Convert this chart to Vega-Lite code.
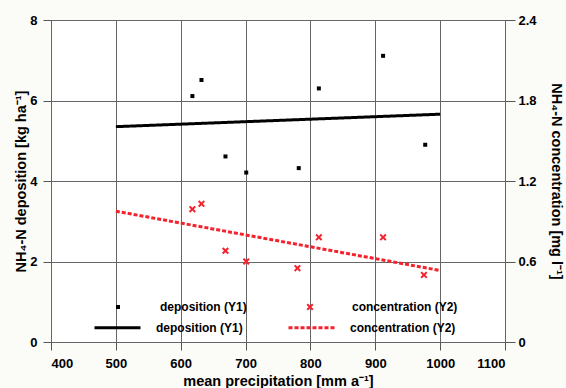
{
  "$schema": "https://vega.github.io/schema/vega-lite/v6.json",
  "width": 454,
  "height": 322,
  "autosize": "none",
  "padding": {"left": 51, "top": 20, "right": 61, "bottom": 46},
  "background": "#fbfbf7",
  "config": {
    "view": {"fill": "white", "stroke": "#555", "strokeWidth": 1},
    "font": "Liberation Sans",
    "axis": {
      "labelFont": "Liberation Sans", "labelFontWeight": "bold", "labelFontSize": 13, "labelColor": "black",
      "titleFont": "Liberation Sans", "titleFontWeight": "bold", "titleFontSize": 14.5, "titleColor": "black",
      "domain": false, "tickColor": "#555", "gridColor": "#666", "gridOpacity": 1, "gridWidth": 1
    },
    "legend": {
      "labelFont": "Liberation Sans", "labelFontWeight": "bold", "labelFontSize": 12, "labelColor": "black",
      "padding": 0
    }
  },
  "datasets": {
    "pts": [
      {"p": 618, "y": 6.11, "s": "deposition (Y1)"},
      {"p": 632, "y": 6.51, "s": "deposition (Y1)"},
      {"p": 669, "y": 4.61, "s": "deposition (Y1)"},
      {"p": 701, "y": 4.21, "s": "deposition (Y1)"},
      {"p": 782, "y": 4.32, "s": "deposition (Y1)"},
      {"p": 813, "y": 6.3, "s": "deposition (Y1)"},
      {"p": 912, "y": 7.11, "s": "deposition (Y1)"},
      {"p": 977, "y": 4.9, "s": "deposition (Y1)"},
      {"p": 618, "y": 0.99, "s": "concentration (Y2)"},
      {"p": 632, "y": 1.03, "s": "concentration (Y2)"},
      {"p": 669, "y": 0.68, "s": "concentration (Y2)"},
      {"p": 701, "y": 0.6, "s": "concentration (Y2)"},
      {"p": 780, "y": 0.55, "s": "concentration (Y2)"},
      {"p": 813, "y": 0.78, "s": "concentration (Y2)"},
      {"p": 912, "y": 0.78, "s": "concentration (Y2)"},
      {"p": 975, "y": 0.5, "s": "concentration (Y2)"}
    ],
    "fit": [
      {"p": 500, "y": 5.35, "f": "deposition fit"},
      {"p": 1000, "y": 5.66, "f": "deposition fit"},
      {"p": 500, "y": 0.975, "f": "concentration fit"},
      {"p": 1000, "y": 0.533, "f": "concentration fit"}
    ]
  },
  "layer": [
    {
      "layer": [
        {
          "data": {"name": "fit"},
          "transform": [{"filter": "datum.f == 'deposition fit'"}],
          "mark": {"type": "line", "strokeWidth": 3},
          "encoding": {
            "x": {"field": "p", "type": "quantitative", "scale": {"domain": [400, 1100], "nice": false},
              "axis": {"values": [400, 500, 600, 700, 800, 900, 1000, 1100], "format": "d", "title": "mean precipitation [mm a⁻¹]", "grid": true, "tickSize": 8, "labelPadding": 7, "titlePadding": 4}},
            "y": {"field": "y", "type": "quantitative", "scale": {"domain": [0, 8], "nice": false},
              "axis": {"orient": "left", "values": [0, 2, 4, 6, 8], "title": "NH₄-N deposition [kg ha⁻¹]", "grid": true, "tickSize": 8, "labelPadding": 6, "titlePadding": 1}},
            "stroke": {"field": "f", "type": "nominal",
              "scale": {"domain": ["deposition fit", "concentration fit"], "range": ["black", "#f5222d"]},
              "legend": {"title": null, "orient": "none", "legendX": 42, "legendY": 283, "direction": "horizontal", "columns": 2, "columnPadding": 39, "symbolType": "stroke", "symbolSize": 2116, "symbolStrokeWidth": 3, "labelOffset": 14, "labelExpr": "datum.label == 'deposition fit' ? 'deposition (Y1)' : 'concentration (Y2)'"}},
            "strokeDash": {"field": "f", "type": "nominal",
              "scale": {"domain": ["deposition fit", "concentration fit"], "range": [[1, 0], [4, 2]]},
              "legend": {"title": null, "orient": "none", "legendX": 42, "legendY": 283, "direction": "horizontal", "columns": 2, "columnPadding": 39, "symbolType": "stroke", "symbolSize": 2116, "symbolStrokeWidth": 3, "labelOffset": 14, "labelExpr": "datum.label == 'deposition fit' ? 'deposition (Y1)' : 'concentration (Y2)'"}}
          }
        },
        {
          "data": {"name": "pts"},
          "transform": [{"filter": "datum.s == 'deposition (Y1)'"}],
          "mark": {"type": "point", "filled": true, "opacity": 1, "size": 16},
          "encoding": {
            "x": {"field": "p", "type": "quantitative", "scale": {"domain": [400, 1100], "nice": false},
              "axis": {"values": [400, 500, 600, 700, 800, 900, 1000, 1100], "format": "d", "title": "mean precipitation [mm a⁻¹]", "grid": true, "tickSize": 8, "labelPadding": 7, "titlePadding": 4}},
            "y": {"field": "y", "type": "quantitative", "scale": {"domain": [0, 8], "nice": false},
              "axis": {"orient": "left", "values": [0, 2, 4, 6, 8], "title": "NH₄-N deposition [kg ha⁻¹]", "grid": true, "tickSize": 8, "labelPadding": 6, "titlePadding": 1}},
            "color": {"field": "s", "type": "nominal",
              "scale": {"domain": ["deposition (Y1)", "concentration (Y2)"], "range": ["black", "#f5222d"]},
              "legend": {"title": null, "orient": "none", "legendX": 61, "legendY": 281, "direction": "horizontal", "columns": 2, "columnPadding": 57, "symbolSize": 16, "labelOffset": 36}},
            "shape": {"field": "s", "type": "nominal",
              "scale": {"domain": ["deposition (Y1)", "concentration (Y2)"], "range": ["square", "M-1.75,-1.05L-1.05,-1.75L0,-0.7L1.05,-1.75L1.75,-1.05L0.7,0L1.75,1.05L1.05,1.75L0,0.7L-1.05,1.75L-1.75,1.05L-0.7,0Z"]},
              "legend": {"title": null, "orient": "none", "legendX": 61, "legendY": 281, "direction": "horizontal", "columns": 2, "columnPadding": 57, "symbolSize": 16, "labelOffset": 36}}
          }
        }
      ]
    },
    {
      "layer": [
        {
          "data": {"name": "fit"},
          "transform": [{"filter": "datum.f == 'concentration fit'"}],
          "mark": {"type": "line", "strokeWidth": 3},
          "encoding": {
            "x": {"field": "p", "type": "quantitative", "scale": {"domain": [400, 1100], "nice": false}},
            "y": {"field": "y", "type": "quantitative", "scale": {"domain": [0, 2.4], "nice": false},
              "axis": {"orient": "right", "values": [0, 0.6, 1.2, 1.8, 2.4], "format": "~g", "title": "NH₄-N concentration [mg l⁻¹]", "grid": false, "tickSize": 10, "labelPadding": 3, "titlePadding": 12}},
            "stroke": {"field": "f", "type": "nominal"},
            "strokeDash": {"field": "f", "type": "nominal"}
          }
        },
        {
          "data": {"name": "pts"},
          "transform": [{"filter": "datum.s == 'concentration (Y2)'"}],
          "mark": {"type": "point", "filled": true, "opacity": 1, "size": 16},
          "encoding": {
            "x": {"field": "p", "type": "quantitative", "scale": {"domain": [400, 1100], "nice": false}},
            "y": {"field": "y", "type": "quantitative", "scale": {"domain": [0, 2.4], "nice": false},
              "axis": {"orient": "right", "values": [0, 0.6, 1.2, 1.8, 2.4], "format": "~g", "title": "NH₄-N concentration [mg l⁻¹]", "grid": false, "tickSize": 10, "labelPadding": 3, "titlePadding": 12}},
            "color": {"field": "s", "type": "nominal"},
            "shape": {"field": "s", "type": "nominal"}
          }
        }
      ]
    }
  ],
  "resolve": {"scale": {"y": "independent"}}
}
